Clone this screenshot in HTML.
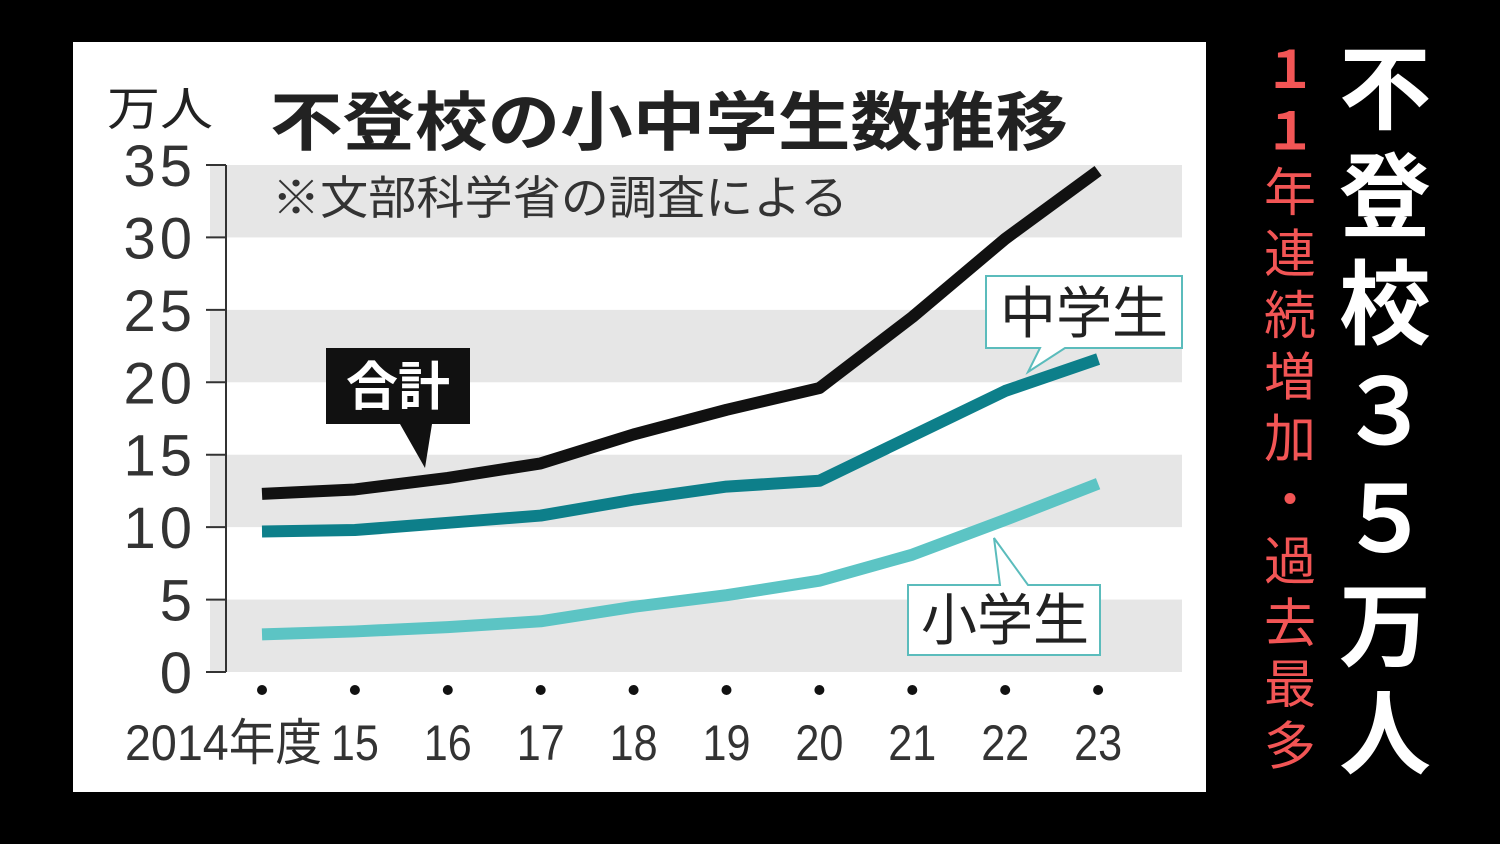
<!DOCTYPE html>
<html><head><meta charset="utf-8"><style>
html,body{margin:0;padding:0;background:#000;width:1500px;height:844px;overflow:hidden}
svg{display:block;font-family:"Liberation Sans","Noto Sans CJK JP",sans-serif}
</style></head><body>
<svg id="c" width="1500" height="844" viewBox="0 0 1500 844">
<rect x="0" y="0" width="1500" height="844" fill="#000"/>
<rect x="73" y="42" width="1133" height="750" fill="#fff"/>
<g id="bands"></g>
<g id="axis"></g>
<g id="lines"></g>
<text x="107" y="125" font-size="46" fill="#222" textLength="106" lengthAdjust="spacingAndGlyphs">万人</text>
<text x="270" y="145" font-size="64" font-weight="bold" fill="#222" textLength="798" lengthAdjust="spacingAndGlyphs">不登校の小中学生数推移</text>
<text x="272" y="214" font-size="46" fill="#333" textLength="576" lengthAdjust="spacingAndGlyphs">※文部科学省の調査による</text>
<g>
<path d="M326 348 H470 V424 H432 L425 468 L400 424 H326 Z" fill="#111"/>
<text x="398" y="405" font-size="52" font-weight="bold" fill="#fff" text-anchor="middle">合計</text>
</g>
<g>
<path d="M986 276 H1182 V348 H1065 L1028 372 L1040 348 H986 Z" fill="#fff" stroke="#5bbcbc" stroke-width="2"/>
<text x="1084" y="333" font-size="56" fill="#222" text-anchor="middle">中学生</text>
</g>
<g>
<path d="M908 585 H1000 L994 538 L1028 585 H1100 V655 H908 Z" fill="#fff" stroke="#5bbcbc" stroke-width="2"/>
<text x="1005" y="640" font-size="56" fill="#222" text-anchor="middle">小学生</text>
</g>
<g id="side"></g>
</svg>
<script>
const years=["2014年度","15","16","17","18","19","20","21","22","23"];
const yTicks=[0,5,10,15,20,25,30,35];
const totalVals=[12.3,12.6,13.4,14.4,16.4,18.1,19.6,24.5,29.9,34.6];
const middleVals=[9.7,9.8,10.3,10.8,11.9,12.8,13.2,16.3,19.4,21.6];
const elemVals=[2.6,2.8,3.1,3.5,4.5,5.3,6.3,8.1,10.5,13.0];
const NS="http://www.w3.org/2000/svg";
function yS(v){return 672-v*(507/35);}
function xS(i){return 262+i*92.9;}
function mk(t,a,p){const e=document.createElementNS(NS,t);for(const k in a)e.setAttribute(k,a[k]);p.appendChild(e);return e;}
const bands=document.getElementById('bands'),axis=document.getElementById('axis'),lines=document.getElementById('lines');
for(let i=0;i<yTicks.length-1;i+=2){
 const r=mk('rect',{x:210,y:yS(yTicks[i+1]),width:972,height:yS(yTicks[i])-yS(yTicks[i+1]),fill:'#e6e6e6'},bands);
 
 
}
const ax=mk('line',{x1:226,y1:yS(0),x2:226,y2:yS(35),stroke:'#333','stroke-width':2},axis);


yTicks.forEach(v=>{
 const tk=mk('line',{x1:206,y1:yS(v),x2:226,y2:yS(v),stroke:'#333','stroke-width':2},axis);
 
 
 const t=mk('text',{x:196,y:yS(v)+21,'font-size':58,'text-anchor':'end',fill:'#333','letter-spacing':4},axis);
 t.textContent=v;
 
 
});
years.forEach((y,i)=>{
 const d=mk('circle',{cx:xS(i),cy:690,r:5,fill:'#111'},axis);
 
 
 let t;
 if(i==0){
  t=mk('text',{x:125,y:760,'font-size':50,fill:'#333',textLength:197,lengthAdjust:'spacingAndGlyphs'},axis);
 } else {
  t=mk('text',{x:xS(i),y:760,'font-size':50,'text-anchor':'middle',fill:'#333',textLength:48,lengthAdjust:'spacingAndGlyphs'},axis);
 }
 t.textContent=y;
 
 
});
function draw(vals,col,name){
 const p=mk('polyline',{points:vals.map((v,i)=>xS(i)+','+yS(v)).join(' '),fill:'none',stroke:col,'stroke-width':12,'stroke-linejoin':'round','stroke-linecap':'butt'},lines);
 
 
}
draw(elemVals,'#5cc4c4','elementary-line');
draw(middleVals,'#0d7f8a','middle-school-line');
draw(totalVals,'#111','total-line');
const side=document.getElementById('side');
const big=["不","登","校","３","５","万","人"];
big.forEach((c,i)=>{
 const t=mk('text',{x:1385,y:122+i*107.5,'font-size':92,'font-weight':'bold','text-anchor':'middle',fill:'#fff'},side);
 t.textContent=c;
 
 
});
const red=["１","１","年","連","続","増","加","・","過","去","最","多"];
red.forEach((c,i)=>{
 const t=mk('text',{x:1290,y:88+i*61.5,'font-size':52,'font-weight':i<2?'bold':'normal','text-anchor':'middle',fill:'#f25555'},side);
 t.textContent=c;
 
 
});
</script>
</body></html>
